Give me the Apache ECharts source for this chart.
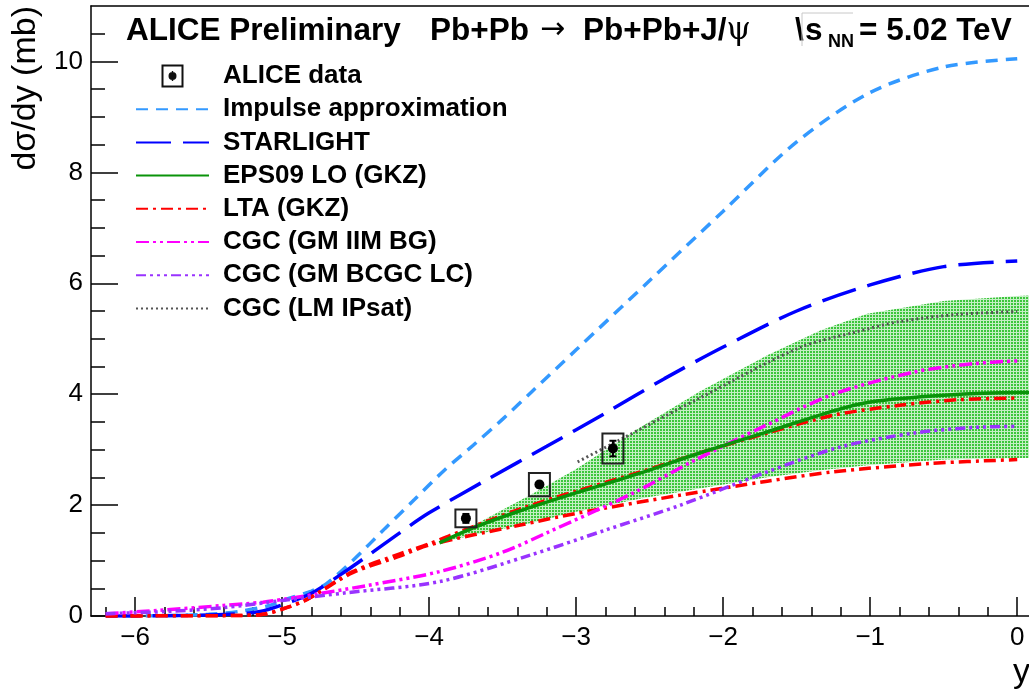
<!DOCTYPE html>
<html>
<head>
<meta charset="utf-8">
<script src="https://cdn.jsdelivr.net/npm/echarts@6/dist/echarts.min.js"></script>
<style>
  html, body { margin: 0; padding: 0; background: #fff; }
  #chart { width: 1029px; height: 698px; }
</style>
</head>
<body>
<div id="chart"></div>
<script>
// Tick positions
const rapidityTicks = [-6, -5, -4, -3, -2, -1, 0];
const rapidityMinorTicks = [-6.2, -5.8, -5.6, -5.4, -5.2, -4.8, -4.6, -4.4, -4.2, -3.8, -3.6, -3.4, -3.2,
  -2.8, -2.6, -2.4, -2.2, -1.8, -1.6, -1.4, -1.2, -0.8, -0.6, -0.4, -0.2];
const sigmaTicks = [0, 2, 4, 6, 8, 10];
const sigmaMinorTicks = [0.5, 1, 1.5, 2.5, 3, 3.5, 4.5, 5, 5.5, 6.5, 7, 7.5, 8.5, 9, 9.5, 10.5];

// ALICE measurement (mb)
const aliceY = [-3.75, -3.25, -2.75];
const aliceSigma = [1.76, 2.37, 3.02];
const aliceStat = [0.08, 0.05, 0.14];
const aliceSyst = [0.16, 0.21, 0.27];

// Impulse approximation
const impulseX = [-6.2, -5.8, -5.5, -5.3, -5.1, -4.95, -4.8, -4.7, -4.5, -4.3, -4.1, -3.9, -3.7, -3.5, -3.3, -3.0, -2.5, -2.0, -1.5, -1.0, -0.5, 0];
const impulseSigma = [0, 0.005, 0.03, 0.08, 0.18, 0.32, 0.45, 0.58, 1.05, 1.58, 2.1, 2.62, 3.08, 3.55, 4.05, 4.8, 6.05, 7.3, 8.55, 9.44, 9.9, 10.05];

// STARLIGHT
const starlightX = [-6.2, -5.6, -5.3, -5.15, -5.0, -4.8, -4.6, -4.4, -4.2, -4.0, -3.6, -3.2, -2.8, -2.4, -2.0, -1.5, -1.0, -0.5, 0];
const starlightSigma = [0, 0.01, 0.04, 0.08, 0.2, 0.41, 0.75, 1.12, 1.5, 1.86, 2.47, 3.06, 3.66, 4.28, 4.85, 5.5, 5.97, 6.3, 6.4];

// EPS09 LO (GKZ): central curve and uncertainty band
const eps09X = [-3.93, -3.7, -3.4, -3.0, -2.56, -2.16, -1.7, -1.25, -1.0, -0.5, 0, 0.08];
const eps09Sigma = [1.32, 1.59, 1.88, 2.22, 2.58, 2.94, 3.32, 3.7, 3.86, 3.98, 4.03, 4.03];
const bandX = [-3.93, -3.63, -3.3, -3.0, -2.56, -2.16, -1.7, -1.34, -1.02, -0.5, 0, 0.08];
const bandLow = [1.32, 1.5, 1.68, 1.88, 2.12, 2.3, 2.5, 2.63, 2.72, 2.82, 2.85, 2.85];
const bandHigh = [1.32, 1.73, 2.2, 2.65, 3.41, 4.05, 4.7, 5.15, 5.45, 5.68, 5.77, 5.78];

// LTA (GKZ): two curves
const ltaUpperX = [-6.2, -5.6, -5.3, -5.13, -4.97, -4.83, -4.52, -4.2, -4.0, -3.86, -3.36, -3.0, -2.56, -2.16, -1.7, -1.25, -0.8, -0.4, 0];
const ltaUpperSigma = [0, 0.005, 0.01, 0.03, 0.15, 0.3, 0.8, 1.12, 1.3, 1.45, 1.95, 2.25, 2.6, 2.94, 3.3, 3.62, 3.8, 3.9, 3.93];
const ltaLowerX = [-6.2, -5.6, -5.3, -5.13, -4.97, -4.83, -4.52, -4.2, -4.0, -3.38, -3.0, -2.29, -1.7, -1.25, -0.6, 0];
const ltaLowerSigma = [0, 0.005, 0.01, 0.03, 0.15, 0.3, 0.78, 1.08, 1.28, 1.64, 1.85, 2.18, 2.43, 2.6, 2.75, 2.82];

// CGC (GM IIM BG)
const iimX = [-6.2, -5.85, -5.4, -5.13, -4.92, -4.42, -3.93, -3.5, -3.2, -2.61, -2.2, -1.7, -1.25, -0.7, -0.3, 0];
const iimSigma = [0.04, 0.1, 0.19, 0.25, 0.33, 0.55, 0.8, 1.15, 1.5, 2.22, 2.8, 3.45, 4.0, 4.4, 4.55, 4.6];

// CGC (GM BCGC LC)
const bcgcX = [-6.2, -5.8, -5.4, -5.0, -4.56, -3.93, -3.31, -2.8, -2.29, -1.7, -1.2, -0.7, -0.3, 0];
const bcgcSigma = [0.04, 0.08, 0.15, 0.28, 0.42, 0.62, 1.1, 1.55, 2.0, 2.6, 3.05, 3.3, 3.4, 3.42];

// CGC (LM IPsat)
const ipsatX = [-2.99, -2.7, -2.16, -1.48, -1.1, -0.8, -0.4, 0];
const ipsatSigma = [2.78, 3.18, 3.93, 4.84, 5.12, 5.31, 5.44, 5.49];

const FONT = '"Liberation Sans", Arial, Helvetica, sans-serif';
const TITLE_FONT = 'bold 31.5px ' + FONT;
const pairs = (xs, ys) => xs.map((x, i) => [x, ys[i]]);

// dotted green fill for the EPS09 band
function bandPattern() {
  const c = document.createElement('canvas');
  c.width = 3; c.height = 3;
  const ctx = c.getContext('2d');
  ctx.fillStyle = '#c4efc4';
  ctx.fillRect(0, 0, 3, 3);
  ctx.fillStyle = '#3cc63c';
  ctx.fillRect(0, 0, 2, 2);
  return c;
}

function lineSeries(name, data, color, type, width, z) {
  return {
    type: 'line', name, data, symbol: 'none', smooth: 0.3, z: z || 3,
    lineStyle: { color, type, width, cap: 'butt' },
    itemStyle: { color },
    emphasis: { disabled: true }
  };
}

const tickStyle = { color: '#000', width: 1.5 };

const chart = echarts.init(document.getElementById('chart'), null, { renderer: 'canvas' });

const option = {
  animation: false,
  grid: { left: 91, top: 6, right: 0, bottom: 82 },
  xAxis: [
    {
      type: 'value', min: -6.3, max: 0.08, position: 'bottom',
      axisLine: { onZero: false, lineStyle: tickStyle },
      axisTick: { inside: true, length: 19, customValues: rapidityTicks, lineStyle: tickStyle },
      axisLabel: {
        customValues: rapidityTicks, margin: 9, color: '#000', fontFamily: FONT, fontSize: 26,
        formatter: v => (v < 0 ? '\u2212' + Math.abs(v) : String(v))
      },
      splitLine: { show: false }
    },
    {
      type: 'value', min: -6.3, max: 0.08, position: 'bottom',
      axisLine: { show: false, onZero: false },
      axisTick: { inside: true, length: 9, customValues: rapidityMinorTicks, lineStyle: tickStyle },
      axisLabel: { show: false },
      splitLine: { show: false }
    },
    {
      type: 'value', min: -6.3, max: 0.08, position: 'top',
      axisLine: { onZero: false, lineStyle: tickStyle },
      axisTick: { show: false }, axisLabel: { show: false }, splitLine: { show: false }
    }
  ],
  yAxis: [
    {
      type: 'value', min: 0, max: 11, position: 'left',
      axisLine: { show: true, onZero: false, lineStyle: tickStyle },
      axisTick: { show: true, inside: true, length: 27, customValues: sigmaTicks, lineStyle: tickStyle },
      axisLabel: { customValues: sigmaTicks, margin: 8, color: '#000', fontFamily: FONT, fontSize: 26 },
      splitLine: { show: false }
    },
    {
      type: 'value', min: 0, max: 11, position: 'left',
      axisLine: { show: false, onZero: false },
      axisTick: { show: true, inside: true, length: 14, customValues: sigmaMinorTicks, lineStyle: tickStyle },
      axisLabel: { show: false },
      splitLine: { show: false }
    }
  ],
  legend: {
    orient: 'vertical', left: 130, top: 58,
    itemWidth: 73, itemHeight: 23, itemGap: 7.2,
    selectedMode: false,
    itemStyle: { opacity: 0 },
    textStyle: { fontFamily: FONT, fontSize: 26, fontWeight: 'bold', color: '#000', lineHeight: 26, padding: [0, 0, 0, 9] },
    data: [
      {
        name: 'ALICE data',
        icon: 'path://M0,0 L22,0 L22,23 L0,23 Z M2,2 L2,21 L20,21 L20,2 Z M10.3,6.5 L11.7,6.5 L11.7,8 L10.3,8 Z M10.3,15 L11.7,15 L11.7,16.5 L10.3,16.5 Z M7,11.5 A4,4 0 1,1 15,11.5 A4,4 0 1,1 7,11.5 Z',
        itemStyle: { color: '#111', opacity: 1 }
      },
      'Impulse approximation', 'STARLIGHT', 'EPS09 LO (GKZ)', 'LTA (GKZ)',
      'CGC (GM IIM BG)', 'CGC (GM BCGC LC)', 'CGC (LM IPsat)'
    ]
  },
  graphic: [
    { type: 'text', left: 126, top: 15, style: { text: 'ALICE Preliminary', font: TITLE_FONT, fill: '#000' } },
    { type: 'text', left: 430, top: 15, style: { text: 'Pb+Pb', font: TITLE_FONT, fill: '#000' } },
    { type: 'text', left: 540, top: 15, style: { text: '\u2192', font: '30px "DejaVu Sans", ' + FONT, fill: '#000' } },
    {
      type: 'text', left: 583, top: 15,
      style: {
        text: '{b|Pb+Pb+J/}{g|\u03c8}',
        rich: {
          b: { font: TITLE_FONT, fill: '#000' },
          g: { font: '31px "DejaVu Serif", serif', fill: '#000' }
        }
      }
    },
    { type: 'text', left: 795, top: 15, style: { text: '\\', font: TITLE_FONT, fill: '#000' } },
    { type: 'polyline', shape: { points: [[802, 46], [802, 13], [853, 13]] }, style: { stroke: '#c8c8c8', lineWidth: 1, fill: null } },
    { type: 'text', left: 805, top: 15, style: { text: 's', font: TITLE_FONT, fill: '#000' } },
    { type: 'text', left: 828, top: 33, style: { text: 'NN', font: 'bold 18px ' + FONT, fill: '#000' } },
    { type: 'text', left: 859, top: 15, style: { text: '= 5.02 TeV', font: TITLE_FONT, fill: '#000' } },
    {
      type: 'text', x: 26, y: 6, rotation: Math.PI / 2,
      style: { text: 'd\u03c3/dy (mb)', font: '34px ' + FONT, fill: '#000', align: 'right', verticalAlign: 'middle' }
    },
    { type: 'text', left: 1013, top: 656, style: { text: 'y', font: '34px ' + FONT, fill: '#000' } }
  ],
  series: [
    {
      type: 'custom', name: 'EPS09 band', z: 1, silent: true,
      xAxisIndex: 0, yAxisIndex: 0,
      data: bandX.map((x, i) => [x, bandLow[i], bandHigh[i]]),
      encode: { x: 0, y: [1, 2] },
      renderItem(params, api) {
        if (params.dataIndex !== 0) return null;
        const pts = [];
        for (let i = 0; i < bandX.length; i++) pts.push(api.coord([bandX[i], bandHigh[i]]));
        for (let i = bandX.length - 1; i >= 0; i--) pts.push(api.coord([bandX[i], bandLow[i]]));
        return {
          type: 'polygon',
          shape: { points: pts, smooth: 0 },
          style: { fill: { image: bandPattern(), repeat: 'repeat' }, stroke: null }
        };
      },
      clip: true
    },
    lineSeries('Impulse approximation', pairs(impulseX, impulseSigma), '#3399ff', [12, 8], 3.5),
    lineSeries('STARLIGHT', pairs(starlightX, starlightSigma), '#0000ff', [35, 12], 3.5),
    lineSeries('EPS09 LO (GKZ)', pairs(eps09X, eps09Sigma), '#0a930a', 'solid', 3.5, 4),
    lineSeries('LTA (GKZ)', pairs(ltaUpperX, ltaUpperSigma), '#ff0000', [12, 5, 3, 5], 3.5),
    lineSeries('LTA (GKZ)', pairs(ltaLowerX, ltaLowerSigma), '#ff0000', [12, 5, 3, 5], 3.5),
    lineSeries('CGC (GM IIM BG)', pairs(iimX, iimSigma), '#ff00ff', [13, 4, 3, 4, 3, 4], 3.5),
    lineSeries('CGC (GM BCGC LC)', pairs(bcgcX, bcgcSigma), '#9933ff', [10, 4, 3, 4, 3, 4, 3, 4], 3.5),
    lineSeries('CGC (LM IPsat)', pairs(ipsatX, ipsatSigma), '#555555', [2, 3], 3),
    {
      type: 'custom', name: 'ALICE data', z: 10,
      data: aliceY.map((y, i) => [y, aliceSigma[i], aliceStat[i], aliceSyst[i]]),
      encode: { x: 0, y: 1 },
      renderItem(params, api) {
        const x = api.value(0), v = api.value(1), st = api.value(2), sy = api.value(3);
        const c = api.coord([x, v]);
        const top = api.coord([x, v + sy])[1], bot = api.coord([x, v - sy])[1];
        const sTop = api.coord([x, v + st])[1], sBot = api.coord([x, v - st])[1];
        return {
          type: 'group',
          children: [
            { type: 'rect', shape: { x: c[0] - 10.5, y: top, width: 21, height: bot - top }, style: { fill: null, stroke: '#222', lineWidth: 2 } },
            { type: 'line', shape: { x1: c[0], y1: sTop, x2: c[0], y2: sBot }, style: { stroke: '#000', lineWidth: 2 } },
            { type: 'line', shape: { x1: c[0] - 3.5, y1: sTop, x2: c[0] + 3.5, y2: sTop }, style: { stroke: '#000', lineWidth: 2 } },
            { type: 'line', shape: { x1: c[0] - 3.5, y1: sBot, x2: c[0] + 3.5, y2: sBot }, style: { stroke: '#000', lineWidth: 2 } },
            { type: 'circle', shape: { cx: c[0], cy: c[1], r: 5 }, style: { fill: '#000' } }
          ]
        };
      }
    }
  ]
};

chart.setOption(option);
</script>
</body>
</html>
